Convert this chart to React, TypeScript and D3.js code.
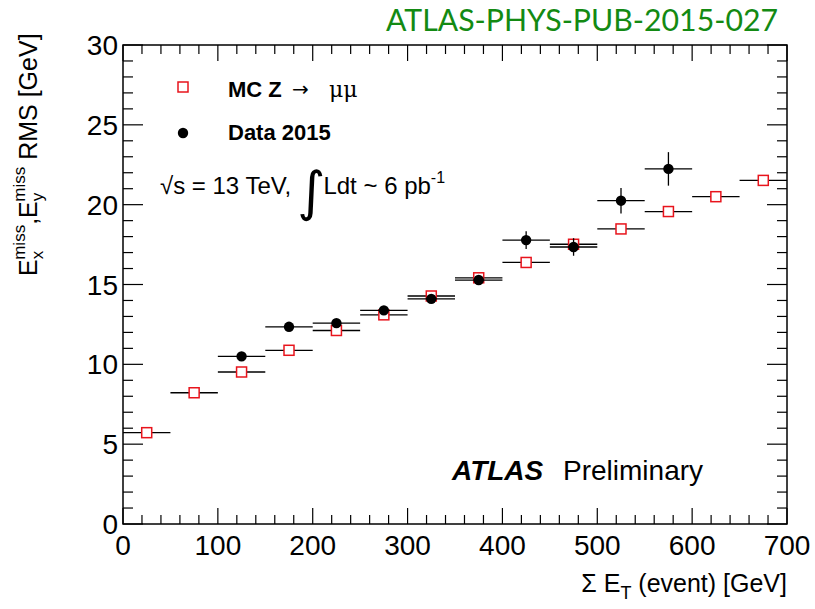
import React from "react";
import * as d3 from "d3";

// Bin centres of the ΣE_T histogram (50 GeV wide bins)
const mcBinCenters = [25, 75, 125, 175, 225, 275, 325, 375, 425, 475, 525, 575, 625, 675];
const mcRms = [5.72, 8.22, 9.52, 10.88, 12.12, 13.1, 14.28, 15.42, 16.38, 17.52, 18.48, 19.57, 20.5, 21.52];
const mcErr = [0.05, 0.05, 0.05, 0.05, 0.05, 0.05, 0.06, 0.07, 0.08, 0.1, 0.12, 0.15, 0.18, 0.2];

const dataBinCenters = [125, 175, 225, 275, 325, 375, 425, 475, 525, 575];
const dataRms = [10.5, 12.35, 12.58, 13.38, 14.1, 15.28, 17.78, 17.35, 20.25, 22.24];
const dataErr = [0.1, 0.12, 0.15, 0.2, 0.2, 0.25, 0.55, 0.55, 0.8, 1.05];

const binHalfWidth = 25;
const xTickValues = [0, 100, 200, 300, 400, 500, 600, 700];
const yTickValues = [0, 5, 10, 15, 20, 25, 30];

const W = 815;
const H = 609;
const frame = { left: 123, right: 787, top: 45, bottom: 524 };

export default function App() {
  const x = d3.scaleLinear().domain([0, 700]).range([frame.left, frame.right]);
  const y = d3.scaleLinear().domain([0, 30]).range([frame.bottom, frame.top]);

  const xMinor = d3.range(0, 701, 20);
  const yMinor = d3.range(0, 31, 1);
  const font = "'Liberation Sans', Arial, Helvetica, sans-serif";

  const xMajorLen = 16, xMinorLen = 9, yMajorLen = 20, yMinorLen = 10;

  return (
    <svg width={W} height={H} style={{ position: "absolute", left: 0, top: 0, background: "#fff" }} fontFamily={font}>
      <rect x={0} y={0} width={W} height={H} fill="#fff" />
      {/* document reference */}
      <text x={778} y={31} textAnchor="end" fill="#138a13" fontSize={30}
        textLength={392} lengthAdjust="spacingAndGlyphs" fontFamily="Lato, 'Open Sans', sans-serif">
        ATLAS-PHYS-PUB-2015-027
      </text>

      {/* frame */}
      <rect x={frame.left} y={frame.top} width={frame.right - frame.left} height={frame.bottom - frame.top}
        fill="none" stroke="#000" strokeWidth={1.5} />

      {/* x ticks bottom & top */}
      {xMinor.map((v) => {
        const major = v % 100 === 0;
        const len = major ? xMajorLen : xMinorLen;
        return (
          <g key={"xt" + v} stroke="#000" strokeWidth={1.2}>
            <line x1={x(v)} x2={x(v)} y1={frame.bottom} y2={frame.bottom - len} />
            <line x1={x(v)} x2={x(v)} y1={frame.top} y2={frame.top + len} />
          </g>
        );
      })}
      {/* y ticks left & right */}
      {yMinor.map((v) => {
        const major = v % 5 === 0;
        const len = major ? yMajorLen : yMinorLen;
        return (
          <g key={"yt" + v} stroke="#000" strokeWidth={1.2}>
            <line x1={frame.left} x2={frame.left + len} y1={y(v)} y2={y(v)} />
            <line x1={frame.right} x2={frame.right - len} y1={y(v)} y2={y(v)} />
          </g>
        );
      })}

      {/* tick labels */}
      {xTickValues.map((v) => (
        <text key={"xl" + v} x={x(v)} y={555} textAnchor="middle" fontSize={28}>{v}</text>
      ))}
      {yTickValues.map((v) => (
        <text key={"yl" + v} x={frame.left - 5} y={y(v) + 10} textAnchor="end" fontSize={28}>{v}</text>
      ))}

      {/* axis titles */}
      <text x={787} y={592} textAnchor="end" fontSize={25}>
        Σ E<tspan fontSize={18} dy={7}>T</tspan><tspan dy={-7}> (event) [GeV]</tspan>
      </text>
      <text transform="translate(37,276) rotate(-90)" fontSize={25}>
        E<tspan fontSize={17} dy={6}>x</tspan><tspan fontSize={17} dx={-9} dy={-18}>miss</tspan>
        <tspan dy={12}>,E</tspan><tspan fontSize={17} dy={6}>y</tspan><tspan fontSize={17} dx={-9} dy={-18}>miss</tspan>
        <tspan dy={12}> RMS [GeV]</tspan>
      </text>

      {/* MC Z→μμ: horizontal bin width and open squares */}
      {mcBinCenters.map((c, i) => (
        <g key={"mc" + i} stroke="#000" strokeWidth={1.3}>
          <line x1={x(c - binHalfWidth)} x2={x(c + binHalfWidth)} y1={y(mcRms[i])} y2={y(mcRms[i])} />
          <line x1={x(c)} x2={x(c)} y1={y(mcRms[i] - mcErr[i])} y2={y(mcRms[i] + mcErr[i])} />
        </g>
      ))}
      {mcBinCenters.map((c, i) => (
        <rect key={"mcm" + i} x={x(c) - 5} y={y(mcRms[i]) - 5} width={10} height={10}
          fill="#fff" stroke="#e8141c" strokeWidth={1.5} />
      ))}

      {/* Data 2015 */}
      {dataBinCenters.map((c, i) => (
        <g key={"d" + i} stroke="#000" strokeWidth={1.3}>
          <line x1={x(c - binHalfWidth)} x2={x(c + binHalfWidth)} y1={y(dataRms[i])} y2={y(dataRms[i])} />
          <line x1={x(c)} x2={x(c)} y1={y(dataRms[i] - dataErr[i])} y2={y(dataRms[i] + dataErr[i])} />
          <circle cx={x(c)} cy={y(dataRms[i])} r={5.2} fill="#000" stroke="none" />
        </g>
      ))}

      {/* legend */}
      <rect x={178} y={82} width={10} height={10} fill="#fff" stroke="#e8141c" strokeWidth={1.5} />
      <text x={228} y={97} fontSize={22} fontWeight="bold">MC Z</text>
      <text x={292} y={96} fontSize={20} fontFamily="'DejaVu Sans', sans-serif">→</text>
      <text x={329} y={97} fontSize={22} fontFamily="'DejaVu Serif', serif">μμ</text>
      <circle cx={183} cy={133} r={5.2} fill="#000" />
      <text x={228} y={140} fontSize={22} fontWeight="bold">Data 2015</text>

      <text x={160} y={194} fontSize={24}>
        √s = 13 TeV,
        <tspan fontSize={54} dx={6} dy={16} fontFamily="'DejaVu Sans', sans-serif">∫</tspan>
        <tspan dy={-16} dx={-2}>Ldt ~ 6 pb</tspan><tspan fontSize={16} dy={-11}>-1</tspan>
      </text>

      <text x={452} y={480} fontSize={28} fontWeight="bold" fontStyle="italic">ATLAS</text>
      <text x={563} y={480} fontSize={28}>Preliminary</text>
    </svg>
  );
}
